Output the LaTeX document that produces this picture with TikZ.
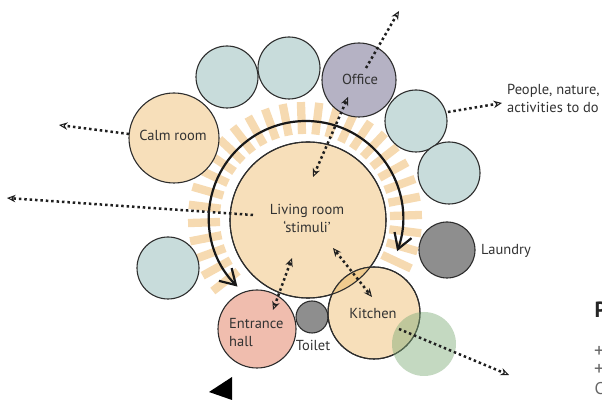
\documentclass[tikz,border=0pt]{standalone}
\usepackage{fontspec}
\setmainfont{PT Sans}
\usetikzlibrary{arrows.meta,calc}
\definecolor{warm}{RGB}{247,223,186}
\definecolor{warmdark}{RGB}{240,203,142}
\definecolor{tealc}{RGB}{200,220,219}
\definecolor{officec}{RGB}{181,178,196}
\definecolor{grayc}{RGB}{142,142,142}
\definecolor{pinkc}{RGB}{240,189,174}
\definecolor{greenc}{RGB}{125,170,118}
\definecolor{edgec}{RGB}{45,45,45}
\definecolor{txtc}{RGB}{50,50,50}
\definecolor{rayc}{RGB}{246,218,177}
\begin{document}
\begin{tikzpicture}[x=1pt,y=1pt,
  room/.style={circle,draw=edgec,line width=1.1pt,inner sep=0pt,minimum size=#1},
  lbl/.style={text=txtc,font=\fontsize{14.5}{18}\selectfont,inner sep=0pt,align=center},
  rayline/.style={draw=rayc,line width=8.3pt},
  dots/.style={draw=black!88,line width=2.5pt,dash pattern=on 2.5pt off 2.9pt},
  both/.style={arrows={Stealth[open,length=8.5pt,width=7.5pt,line width=1pt]-Stealth[open,length=8.5pt,width=7.5pt,line width=1pt]}},
  fwd/.style={arrows={-Stealth[open,length=8.5pt,width=7.5pt,line width=1pt]}},
  arcline/.style={draw=black!90,line width=2.2pt,arrows={Straight Barb[length=15pt,width=18pt]-Straight Barb[length=15pt,width=18pt]}}
]
\useasboundingbox (0,0) rectangle (602,401);
% rays
\coordinate (rc) at (305,182);
\foreach \a in {-25,-16,...,222}
  \draw[rayline] ($(rc)+(\a:85)$) -- ($(rc)+(\a:117)$);
% surrounding rooms
\node[room=62,fill=tealc] (t1) at (227,324) {};
\node[room=62,fill=tealc] (t2) at (289,333) {};
\node[room=74,fill=officec] (office) at (359,321) {};
\node[room=62,fill=tealc] (t3) at (416,280) {};
\node[room=62,fill=tealc] (t4) at (449,228) {};
\node[room=56,fill=grayc] (laundry) at (447,151) {};
\node[room=62,fill=tealc] (t5) at (168,133) {};
\node[room=90,fill=warm] (calm) at (174,263) {};
\node[room=78,fill=pinkc] (entr) at (257,72) {};
\node[room=32,fill=grayc] (toilet) at (312,84) {};
\node[room=156,fill=warm] (living) at (308,181) {};
\node[room=92,fill=warm] (kitchen) at (374,88) {};
\begin{scope}
  \clip (kitchen.center) circle[radius=46];
  \fill[warmdark] (living.center) circle[radius=78];
\end{scope}
\draw[edgec,line width=1.1pt] (living.center) circle[radius=78];
\draw[edgec,line width=1.1pt] (kitchen.center) circle[radius=46];
% big circular arrow
\coordinate (ac) at (306,183);
\draw[arcline] ($(ac)+(225:97)$) arc[start angle=225,end angle=-20,radius=97];
% labels
\node[lbl] (lliving) at (307,183) {Living room\\‘stimuli’};
\node[lbl] (lcalm) at (173,266) {Calm room};
\node[lbl] (loffice) at (360,322) {Office};
\node[lbl,anchor=west] (llaundry) at (481,150) {Laundry};
\node[lbl,anchor=west,align=left] (lentr) at (229,68) {Entrance\\hall};
\node[lbl] (ltoilet) at (313,56) {Toilet};
\node[lbl] (lkitchen) at (373,88) {Kitchen};
\node[lbl,anchor=west,align=left] (lpeople) at (507,303) {People, nature,\\activities to do};
% green translucent circle
\node[circle,inner sep=0pt,minimum size=64,fill=greenc,fill opacity=0.45] (green) at (424,57) {};
% dotted connectors
\coordinate (o1) at (348,304); \coordinate (o2) at (313,224);
\coordinate (o3) at (366,333); \coordinate (o4) at (399,390);
\coordinate (p1) at (448,289); \coordinate (p2) at (502,298);
\coordinate (c1) at (129,267); \coordinate (c2) at (59,276);
\coordinate (l1) at (253,186); \coordinate (l2) at (7,203);
\coordinate (e1) at (292,143); \coordinate (e2) at (273,91);
\coordinate (k1) at (333,153); \coordinate (k2) at (372,104);
\coordinate (k3) at (399,72); \coordinate (k4) at (509,26);
\draw[dots,both] (o1) -- (o2);
\draw[dots,fwd] (o3) -- (o4);
\draw[dots,fwd] (p1) -- (p2);
\draw[dots,fwd] (c1) -- (c2);
\draw[dots,fwd] (l1) -- (l2);
\draw[dots,both] (e1) -- (e2);
\draw[dots,both] (k1) -- (k2);
\draw[dots,fwd] (k3) -- (k4);
% entrance marker
\fill[black] (209,9) -- (232,24) -- (232,1) -- cycle;
% cut-off text at right edge
\node[anchor=base west,inner sep=0pt,font=\bfseries\fontsize{22}{24}\selectfont,text=black!85] (rp) at (594.5,83) {P};
\node[anchor=base west,inner sep=0pt,font=\fontsize{20}{18}\selectfont,text=black!60] (r1) at (594,43.5) {+};
\node[anchor=base west,inner sep=0pt,font=\fontsize{20}{18}\selectfont,text=black!60] (r2) at (594,25.5) {+};
\node[anchor=base west,inner sep=0pt,font=\fontsize{17}{18}\selectfont,text=black!60] (r3) at (594.5,6) {C};
\end{tikzpicture}
\end{document}
